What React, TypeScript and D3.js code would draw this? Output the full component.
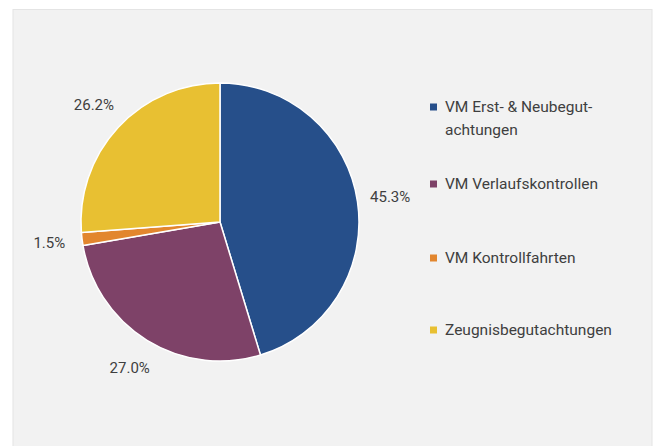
import React, { useEffect, useRef } from "react";
import * as d3 from "d3";

// categories, legend lines and values
const categories = [
  "VM Erst- & Neubegutachtungen",
  "VM Verlaufskontrollen",
  "VM Kontrollfahrten",
  "Zeugnisbegutachtungen",
];
const legendLines = [
  ["VM Erst- & Neubegut-", "achtungen"],
  ["VM Verlaufskontrollen"],
  ["VM Kontrollfahrten"],
  ["Zeugnisbegutachtungen"],
];
const shares = [45.3, 27.0, 1.5, 26.2];
const colors = ["#264f8a", "#7e4268", "#e2862e", "#e8c032"];

export default function App() {
  const ref = useRef<SVGSVGElement>(null);

  useEffect(() => {
    const width = 658;
    const height = 446;
    const cx = 220;
    const cy = 222;
    const radius = 139;

    const svg = d3.select(ref.current);
    svg.selectAll("*").remove();
    svg.attr("width", width).attr("height", height);

    // grauer Hintergrund der Diagrammfläche
    svg.append("rect").attr("width", width).attr("height", height).attr("fill", "#ffffff");
    svg
      .append("rect")
      .attr("x", 13)
      .attr("y", 9.5)
      .attr("width", 639)
      .attr("height", 440)
      .attr("fill", "#f2f2f2")
      .attr("stroke", "#e4e4e4")
      .attr("stroke-width", 1);

    const data = categories.map((c, i) => ({ name: c, value: shares[i], color: colors[i] }));

    const pie = d3
      .pie<{ name: string; value: number; color: string }>()
      .sort(null)
      .value((d) => d.value);
    const arcs = pie(data);

    const arc = d3.arc<d3.PieArcDatum<any>>().innerRadius(0).outerRadius(radius);
    const labelArc = d3.arc<d3.PieArcDatum<any>>().innerRadius(172).outerRadius(172);

    const g = svg.append("g").attr("transform", `translate(${cx},${cy})`);
    g.selectAll("path")
      .data(arcs)
      .enter()
      .append("path")
      .attr("d", arc as any)
      .attr("fill", (d) => d.data.color)
      .attr("stroke", "#ffffff")
      .attr("stroke-width", 1.5)
      .attr("stroke-linejoin", "round");

    g.selectAll("text.label")
      .data(arcs)
      .enter()
      .append("text")
      .attr("class", "label")
      .attr("transform", (d) => `translate(${labelArc.centroid(d)})`)
      .attr("text-anchor", "middle")
      .attr("dominant-baseline", "central")
      .attr("font-family", "Roboto, sans-serif")
      .attr("font-size", 15)
      .attr("fill", "#3f3f3f")
      .text((d) => d.data.value.toFixed(1) + "%");

    // Legende
    const legendY = [107, 184, 258, 330];
    const legend = svg.append("g");
    legendLines.forEach((lines, i) => {
      const item = legend.append("g").attr("transform", `translate(430,${legendY[i]})`);
      item
        .append("rect")
        .attr("x", 0)
        .attr("y", -3.5)
        .attr("width", 7)
        .attr("height", 7)
        .attr("fill", colors[i]);
      lines.forEach((line, j) => {
        item
          .append("text")
          .attr("x", 15)
          .attr("y", j * 23)
          .attr("dominant-baseline", "central")
          .attr("font-family", "Roboto, sans-serif")
          .attr("font-size", 15.5)
          .attr("fill", "#3f3f3f")
          .text(line);
      });
    });
  }, []);

  return (
    <div style={{ position: "absolute", left: 0, top: 0 }}>
      <svg ref={ref} style={{ display: "block" }}></svg>
    </div>
  );
}
